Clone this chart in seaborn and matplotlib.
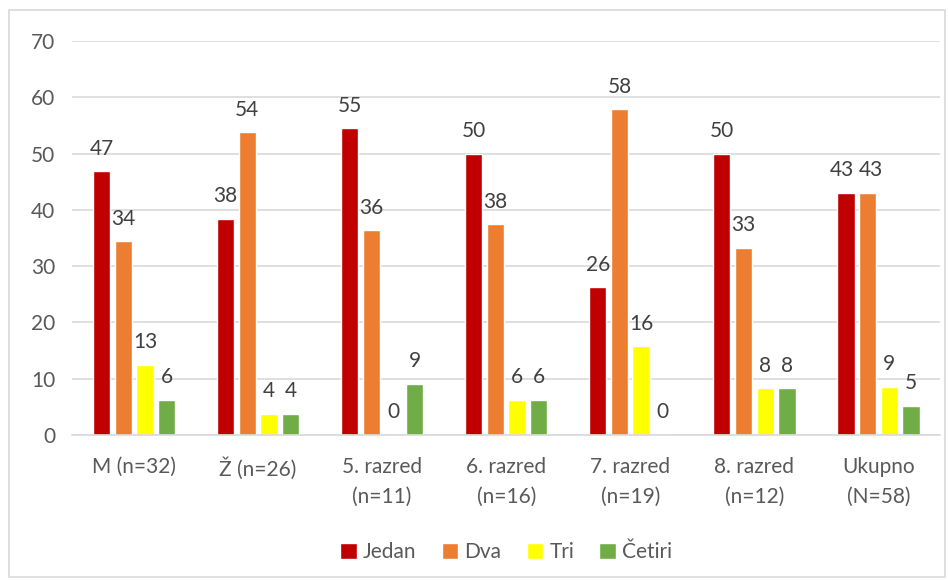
import pandas as pd
import numpy as np
import matplotlib.pyplot as plt
import seaborn as sns
from matplotlib.patches import Rectangle

# Chart data (percentages)
categories = ['M (n=32)', 'Ž (n=26)', '5. razred\n(n=11)', '6. razred\n(n=16)',
              '7. razred\n(n=19)', '8. razred\n(n=12)', 'Ukupno\n(N=58)']
series = ['Jedan', 'Dva', 'Tri', 'Četiri']
jedan = [46.9, 38.46, 54.55, 50.0, 26.3, 50.0, 43.1]
dva = [34.4, 53.8, 36.4, 37.5, 57.9, 33.3, 43.1]
tri = [12.5, 3.8, 0.0, 6.25, 15.8, 8.3, 8.6]
cetiri = [6.25, 3.8, 9.1, 6.25, 0.0, 8.3, 5.2]
colors = ['#C00000', '#ED7D31', '#FFFF00', '#70AD47']

# Long format table for seaborn
values = [jedan, dva, tri, cetiri]
rows = []
for s, vals in zip(series, values):
    for c, v in zip(categories, vals):
        rows.append({'Kategorija': c, 'Odgovor': s, 'Postotak': v})
df = pd.DataFrame(rows)

sns.set_style('white')
plt.rcParams['font.family'] = ['Lato', 'DejaVu Sans']

fig = plt.figure(figsize=(9.48, 5.8), dpi=100)
ax = fig.add_axes([0.076, 0.25, 0.916, 0.679])

sns.barplot(data=df, x='Kategorija', y='Postotak', hue='Odgovor',
            palette=colors, width=0.7, gap=0.2, ax=ax, legend=True,
            saturation=1, errorbar=None)

# Data labels (Excel style rounding, half up)
all_labels = []
for cont, vals in zip(ax.containers, values):
    texts = ax.bar_label(cont, labels=[str(int(np.floor(v + 0.5))) for v in vals],
                         padding=9, fontsize=15, color='#404040')
    all_labels.append(texts)

# nudge the two touching "43" labels in the last group apart a little
all_labels[0][-1].xyann = (-2.5, 9)
all_labels[1][-1].xyann = (2.5, 9)

ax.set_ylim(0, 70)
ax.set_yticks(range(0, 71, 10))
ax.set_xlim(-0.5, len(categories) - 0.5)
ax.yaxis.grid(True, color='#D9D9D9', linewidth=1.2)
ax.set_axisbelow(True)
ax.set_xlabel('')
ax.set_ylabel('')
ax.tick_params(axis='y', length=0, labelsize=15, labelcolor='#595959', pad=12)
ax.tick_params(axis='x', length=0, labelsize=15, labelcolor='#595959', pad=16)
for lbl in ax.get_xticklabels():
    lbl.set_linespacing(1.6)
for side in ['top', 'right', 'left']:
    ax.spines[side].set_visible(False)
ax.spines['bottom'].set_color('#D9D9D9')
ax.spines['bottom'].set_linewidth(1.2)

# Legend at the bottom
handles, labels = ax.get_legend_handles_labels()
ax.legend(handles, labels, loc='lower center', bbox_to_anchor=(0.5, -0.37),
          ncol=4, frameon=False, fontsize=15, labelcolor='#595959',
          handlelength=0.8, handleheight=0.8, handletextpad=0.3, columnspacing=1.2)

# Outer chart border
fig.patches.append(Rectangle((0.009, 0.005), 0.988, 0.978, transform=fig.transFigure,
                             fill=False, edgecolor='#D9D9D9', linewidth=1.2))

fig.savefig('out.png', dpi=100)
